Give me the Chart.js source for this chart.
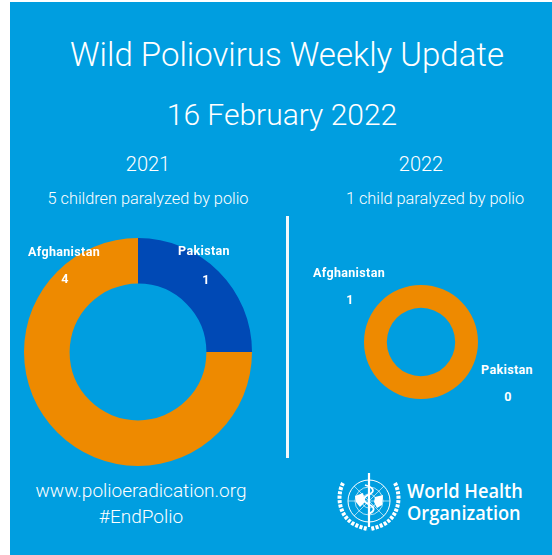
<!DOCTYPE html>
<html>
<head>
<meta charset="utf-8">
<title>Wild Poliovirus Weekly Update</title>
<script src="https://cdn.jsdelivr.net/npm/chart.js@4"></script>
<style>
html, body { margin: 0; padding: 0; background: #fff; }
#panel { position: absolute; left: 10px; top: 2px; width: 542px; height: 553px; background: #009ee0; }
.t { position: absolute; color: #fff; white-space: nowrap; transform: translate(-50%, -50%); font-family: Roboto, sans-serif; font-weight: 300; line-height: 1; }
.lab { font-weight: 700; font-size: 12.5px; letter-spacing: 0.35px; }
canvas { position: absolute; }
#divider { position: absolute; left: 286px; top: 216px; width: 3px; height: 242px; background: #f2f8fc; }
#logo { position: absolute; left: 335px; top: 471px; }
.who { font-family: "Open Sans", sans-serif; font-weight: 600; font-size: 20px; transform-origin: left center; transform: translate(0, -50%) scaleX(0.91); }
</style>
</head>
<body>
<div id="panel"></div>
<div id="divider"></div>
<canvas id="grafico2021" style="left:24px;top:238px;width:228px;height:228px"></canvas>
<canvas id="grafico2022" style="left:364px;top:285px;width:114px;height:114px"></canvas>

<div class="t" style="left:287px;top:54px;font-size:33px">Wild Poliovirus Weekly Update</div>
<div class="t" style="left:282px;top:115px;font-size:30px">16 February 2022</div>
<div class="t" style="left:148px;top:164px;font-size:20px">2021</div>
<div class="t" style="left:421px;top:164px;font-size:20px">2022</div>
<div class="t" style="left:148px;top:199px;font-size:16.3px">5 children paralyzed by polio</div>
<div class="t" style="left:435px;top:199px;font-size:16.3px">1 child paralyzed by polio</div>
<div class="t" style="left:141px;top:490px;font-size:19px">www.polioeradication.org</div>
<div class="t" style="left:141px;top:516px;font-size:19px">#EndPolio</div>

<div class="t lab" id="a21n" style="left:64px;top:252px"></div>
<div class="t lab" id="a21v" style="left:65px;top:279px"></div>
<div class="t lab" id="p21n" style="left:204px;top:251px"></div>
<div class="t lab" id="p21v" style="left:206px;top:280px"></div>
<div class="t lab" id="a22n" style="left:349px;top:273px"></div>
<div class="t lab" id="a22v" style="left:350px;top:300px"></div>
<div class="t lab" id="p22n" style="left:507px;top:370px"></div>
<div class="t lab" id="p22v" style="left:508px;top:397px"></div>

<svg id="logo" width="70" height="62" viewBox="0 0 70 62" fill="none" stroke="#fff">
  <circle cx="34" cy="30" r="21" stroke-width="1"/>
  <circle cx="34" cy="30" r="14" stroke-width="0.7"/>
  <circle cx="34" cy="30" r="7" stroke-width="0.7"/>
  <path d="M13 30H55M34 9V51M19 15L49 45M49 15L19 45" stroke-width="0.6"/>
  <path d="M34 2V56" stroke-width="2.2"/>
  <path d="M30 14C40 17 40 21 33 24C27 27 28 31 35 34C41 37 39 41 33 43" stroke-width="1.8"/>
  <path d="M20 25L28 22L30 31L25 36L21 31Z M40 26L48 24L47 34L42 37L39 31Z" fill="#fff" stroke="none"/>
  <path d="M8 12C2 24 3 42 17 52C22 55 28 57 33 58M60 12C66 24 65 42 51 52C46 55 40 57 35 58" stroke-width="4" stroke-dasharray="3 1.4"/>
</svg>
<div class="t who" style="left:407px;top:491px">World Health</div>
<div class="t who" style="left:407px;top:513px">Organization</div>

<script>
var paises = ["Pakistan", "Afghanistan"];
// numbers printed on the graphic
var casos2021 = [1, 4];
var casos2022 = [0, 1];
// the source draws 2021 as a 1:3 split even though it prints 1 and 4, arcs follow the drawing
var arcos2021 = [1, 3];
var arcos2022 = [0, 1];
var cores = ["#0049b5", "#ee8a00"];

function rosca(id, valores) {
    return new Chart(document.getElementById(id), {
        type: "doughnut",
        data: {
            labels: paises,
            datasets: [{
                data: valores,
                backgroundColor: cores,
                borderWidth: 0
            }]
        },
        options: {
            responsive: false,
            animation: false,
            cutout: "60%",
            layout: { padding: 0 },
            plugins: { legend: { display: false }, tooltip: { enabled: false } }
        }
    });
}

rosca("grafico2021", arcos2021);
rosca("grafico2022", arcos2022);

document.getElementById("p21n").textContent = paises[0];
document.getElementById("a21n").textContent = paises[1];
document.getElementById("p21v").textContent = casos2021[0];
document.getElementById("a21v").textContent = casos2021[1];
document.getElementById("p22n").textContent = paises[0];
document.getElementById("a22n").textContent = paises[1];
document.getElementById("p22v").textContent = casos2022[0];
document.getElementById("a22v").textContent = casos2022[1];
</script>
</body>
</html>
